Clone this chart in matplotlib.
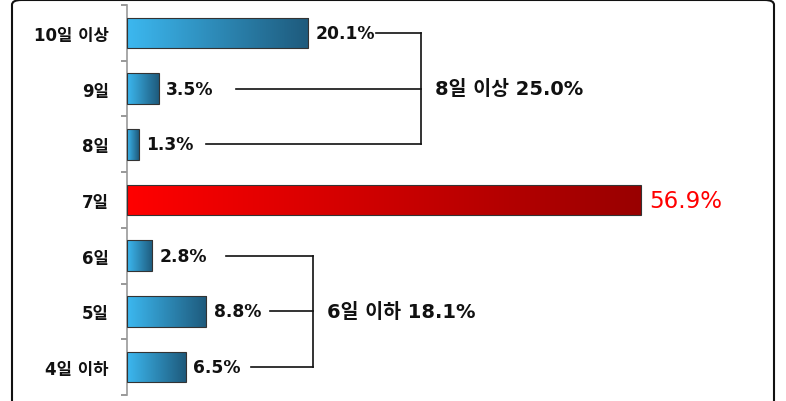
import numpy as np
import matplotlib
matplotlib.use('Agg')
import matplotlib.pyplot as plt
from matplotlib.patches import FancyBboxPatch

# 숫자는 DejaVu, 한글은 Noto CJK
plt.rcParams['font.family'] = ['DejaVu Sans', 'Noto Sans CJK KR']

# 데이터
categories = ['10일 이상', '9일', '8일', '7일', '6일', '5일', '4일 이하']
values = [20.1, 3.5, 1.3, 56.9, 2.8, 8.8, 6.5]
highlight = '7일'
group_upper = ['10일 이상', '9일', '8일']
group_upper_label = '8일 이상 25.0%'
group_lower = ['6일', '5일', '4일 이하']
group_lower_label = '6일 이하 18.1%'

# 브래킷 선 시작 위치 (x축 단위)
upper_starts = [27.6, 12.1, 8.75]
upper_x = 32.6
lower_starts = [11.0, 15.8, 13.7]
lower_x = 20.6

W, H = 786, 402
fig = plt.figure(figsize=(W / 100, H / 100), dpi=100)
ax = fig.add_axes([127 / W, 1 - 396 / H, (777 - 127) / W, (396 - 6) / H])

n = len(categories)
ypos = np.arange(n)

blue_grad = matplotlib.colors.LinearSegmentedColormap.from_list('b', ['#3cb8f0', '#1e5a7c'])
red_grad = matplotlib.colors.LinearSegmentedColormap.from_list('r', ['#ff0000', '#990000'])
grad = np.linspace(0, 1, 256).reshape(1, -1)

bh = 0.55
for y, cat, v in zip(ypos, categories, values):
    cmap = red_grad if cat == highlight else blue_grad
    rect = plt.Rectangle((0, y - bh / 2), v, bh, facecolor='none',
                         edgecolor='#333333', linewidth=0.8, zorder=3)
    ax.add_patch(rect)
    im = ax.imshow(grad, cmap=cmap, aspect='auto',
                   extent=(0, v, y + bh / 2, y - bh / 2), zorder=2)
    im.set_clip_path(rect)
    if cat == highlight:
        ax.text(v + 0.9, y, f'{v:.1f}%', color='#ff0000', fontsize=16.5,
                va='center', ha='left')
    else:
        ax.text(v + 0.8, y, f'{v:.1f}%', color='#111111', fontsize=12.3,
                va='center', ha='left', fontweight='bold')

ax.set_xlim(0, 72)
ax.set_ylim(n - 0.5, -0.5)

# 브래킷
def bracket(names, starts, xv, label):
    ys = [categories.index(c) for c in names]
    for y, s in zip(ys, starts):
        ax.plot([s, xv], [y, y], color='#111111', lw=1.2, zorder=4)
    ax.plot([xv, xv], [min(ys), max(ys)], color='#111111', lw=1.2, zorder=4)
    ax.text(xv + 1.5, np.mean(ys), label, fontsize=14, fontweight='bold',
            va='center', ha='left', color='#111111')

bracket(group_upper, upper_starts, upper_x, group_upper_label)
bracket(group_lower, lower_starts, lower_x, group_lower_label)

# 축
ax.set_yticks(np.arange(-0.5, n, 1), minor=False)
ax.set_yticklabels([])
ax.set_yticks(ypos, minor=True)
ax.set_yticklabels(categories, minor=True, fontsize=12, fontweight='bold', color='#111111')
ax.tick_params(axis='y', which='major', length=4, color='#888888', width=1.2)
ax.tick_params(axis='y', which='minor', length=0, pad=13)
ax.set_xticks([])
for s in ['top', 'right', 'bottom']:
    ax.spines[s].set_visible(False)
ax.spines['left'].set_color('#999999')
ax.spines['left'].set_linewidth(1.2)

# 테두리
frame = FancyBboxPatch((12 / W, -20 / H), (774 - 12) / W, (401 + 20) / H,
                       boxstyle='round,pad=0,rounding_size=0.012',
                       transform=fig.transFigure, facecolor='none',
                       edgecolor='#111111', linewidth=1.5)
fig.patches.append(frame)

fig.savefig('out.png', dpi=100)
